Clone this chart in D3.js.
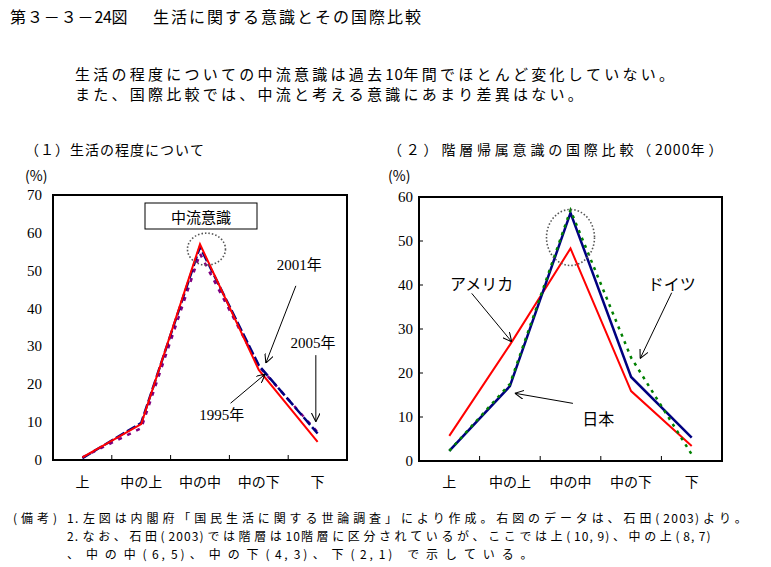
<!DOCTYPE html>
<html><head><meta charset="utf-8">
<script src="https://cdn.jsdelivr.net/npm/d3@7"></script>
<style>
body{margin:0;background:#fff;}
svg{display:block;}
text{font-family:"Noto Sans CJK JP","Noto Sans",sans-serif;fill:#000;}
.num{font-family:"Liberation Serif","Noto Sans CJK JP",serif;}
</style></head>
<body>
<svg id="c" width="771" height="567"></svg>
<script>
// ---- data ----
const categories = ["上","中の上","中の中","中の下","下"];
// (1) 生活の程度について (%)
const y1995 = [0.7, 9.5, 57.0, 23.8, 4.8];
const y2001 = [0.5, 9.8, 56.3, 25.0, 7.0];
const y2005 = [0.7, 8.4, 54.5, 24.8, 7.3];
// (2) 階層帰属意識の国際比較 (2000年) (%)
const japan   = [2.3, 17.0, 56.4, 19.1, 5.3];
const usa     = [5.7, 26.4, 48.3, 15.9, 3.4];
const germany = [2.3, 17.5, 57.0, 23.5, 1.5];
const leftTicks  = [0,10,20,30,40,50,60,70];
const rightTicks = [0,10,20,30,40,50,60];

const svg = d3.select("#c");

// fixed-pitch text (full-width chars advance `pitch`, half-width chars pitch/2)
function mono(x,y,s,size,pitch){
  const xs=[]; let cx=x;
  for(const ch of s){
    xs.push(cx.toFixed(2));
    const c=ch.codePointAt(0);
    cx += (c<0x2000 || (c>=0xff61 && c<=0xff9f)) ? pitch/2 : pitch;
  }
  return svg.append("text").attr("x",xs.join(" ")).attr("y",y).attr("font-size",size)
    .attr("dominant-baseline","central").text(s);
}
mono(10,16,"第３－３－24図",16,16.9);
mono(153,16,"生活に関する意識とその国際比較",16,18);
mono(75,73,"生活の程度についての中流意識は過去10年間でほとんど変化していない。",15,18.25);
mono(75,93,"また、国際比較では、中流と考える意識にあまり差異はない。",15,18.25);
mono(25,149,"（１）生活の程度について",14,15);
mono(388,149,"（２）階層帰属意識の国際比較（2000年）",14,17.8);
svg.append("text").attr("x",25).attr("y",175).attr("font-size",14).attr("dominant-baseline","central").text("(%)");
svg.append("text").attr("x",388).attr("y",175).attr("font-size",14).attr("dominant-baseline","central").text("(%)");
mono(13,517,"(備考)",12,16);
mono(67,517,"1.左図は内閣府「国民生活に関する世論調査」により作成。右図のデータは、石田(2003)より。",12,15.9);
mono(67,535,"2.なお、石田(2003)では階層は10階層に区分されているが、ここでは上(10,9)、中の上(8,7)",12,15.6);
mono(67,553,"、中の中(6,5)、中の下(4,3)、下(2,1) で示している。",12,18.9);

// arrow marker
svg.append("defs").append("marker").attr("id","ah")
  .attr("viewBox","0 0 10 10").attr("refX",10).attr("refY",5)
  .attr("markerWidth",9).attr("markerHeight",9).attr("markerUnits","userSpaceOnUse")
  .attr("orient","auto")
  .append("path").attr("d","M0,0 L10,5 L0,10").attr("fill","none").attr("stroke","#000").attr("stroke-width",1.2);

function panel(cfg){
  const x = d3.scaleBand().domain(categories).range([cfg.left,cfg.right]).padding(0);
  const y = d3.scaleLinear().domain([0,cfg.max]).range([cfg.bottom,cfg.top]);
  const bw = x.bandwidth();
  const xi = i => cfg.left + (i+0.5)*bw;
  const g = svg.append("g");
  g.append("rect").attr("x",cfg.left).attr("y",cfg.top)
    .attr("width",cfg.right-cfg.left).attr("height",cfg.bottom-cfg.top)
    .attr("fill","none").attr("stroke","#000").attr("stroke-width",2);
  g.selectAll(".yl").data(cfg.ticks).enter().append("text").attr("class","num")
    .attr("x",cfg.left-cfg.lgap).attr("y",d=>y(d)).attr("text-anchor","end")
    .attr("dominant-baseline","central").attr("font-size",15).text(d=>d);
  if(cfg.yTicks){
    g.selectAll(".yt").data(cfg.ticks.slice(1,-1)).enter().append("line")
      .attr("x1",cfg.left).attr("x2",cfg.left+4).attr("y1",d=>y(d)).attr("y2",d=>y(d))
      .attr("stroke","#000").attr("stroke-width",1);
  }
  g.selectAll(".xt").data(categories.slice(1)).enter().append("line")
    .attr("x1",d=>x(d)).attr("x2",d=>x(d)).attr("y1",cfg.bottom).attr("y2",cfg.bottom-5)
    .attr("stroke","#000").attr("stroke-width",1);
  g.selectAll(".xl").data(categories).enter().append("text")
    .attr("x",d=>x(d)+bw/2).attr("y",481).attr("text-anchor","middle")
    .attr("dominant-baseline","central").attr("font-size",14).text(d=>d);
  const line = d3.line().x((d,i)=>x(categories[i])+bw/2).y(d=>y(d));
  cfg.series.forEach(s=>{
    g.append("path").attr("d",line(s.values)).attr("fill","none")
      .attr("stroke",s.color).attr("stroke-width",s.w)
      .attr("stroke-dasharray",s.dash||null).attr("stroke-linejoin","miter");
  });
  return {x,y,xi,g};
}

// ---- left panel ----
const L = panel({left:53,right:347,top:195,bottom:460,max:70,ticks:leftTicks,lgap:11,yTicks:false,
  series:[
    {values:y2005,color:"#800080",w:2.5,dash:"4,6"},
    {values:y2001,color:"#000080",w:2.5,dash:"10,3"},
    {values:y1995,color:"#ff0000",w:2}
  ]});
L.g.append("rect").attr("x",145).attr("y",203).attr("width",112).attr("height",26)
  .attr("fill","#fff").attr("stroke","#000").attr("stroke-width",1);
L.g.append("text").attr("x",201).attr("y",216.5).attr("text-anchor","middle")
  .attr("dominant-baseline","central").attr("font-size",15).text("中流意識");
L.g.append("ellipse").attr("cx",L.xi(2.11)).attr("cy",L.y(55.7)).attr("rx",19).attr("ry",16)
  .attr("fill","none").attr("stroke","#555").attr("stroke-width",1.6).attr("stroke-dasharray","1.5,2");
function arrow(P,i1,v1,i2,v2){
  P.g.append("line").attr("x1",P.xi(i1)).attr("y1",P.y(v1)).attr("x2",P.xi(i2)).attr("y2",P.y(v2))
    .attr("stroke","#000").attr("stroke-width",1).attr("marker-end","url(#ah)");
}
function label(P,i,v,s,size,cls){
  P.g.append("text").attr("class",cls||null).attr("x",P.xi(i)).attr("y",P.y(v)).attr("text-anchor","middle")
    .attr("dominant-baseline","central").attr("font-size",size).text(s);
}
arrow(L,3.63,46.0,3.12,25.6);
arrow(L,3.97,27.7,3.97,10.1);
arrow(L,2.52,15.0,3.11,22.7);
label(L,3.69,51.5,"2001年",15,"num");
label(L,3.92,30.8,"2005年",15,"num");
label(L,2.37,11.9,"1995年",15,"num");

// ---- right panel ----
const R = panel({left:419,right:722,top:197,bottom:461,max:60,ticks:rightTicks,lgap:6,yTicks:true,
  series:[
    {values:usa,color:"#ff0000",w:2},
    {values:japan,color:"#000080",w:2.5},
    {values:germany,color:"#008000",w:2.5,dash:"3,5"}
  ]});
R.g.append("ellipse").attr("cx",R.xi(2.0)).attr("cy",R.y(50.8)).attr("rx",24).attr("ry",28)
  .attr("fill","none").attr("stroke","#555").attr("stroke-width",1.6).attr("stroke-dasharray","1.5,2");
label(R,0.535,40.4,"アメリカ",16);
label(R,3.67,40.4,"ドイツ",16);
label(R,2.46,9.7,"日本",16);
arrow(R,0.37,38.1,1.03,27.1);
arrow(R,3.67,38.25,3.15,23.3);
arrow(R,2.04,13.1,1.08,15.4);
</script>
</body></html>
